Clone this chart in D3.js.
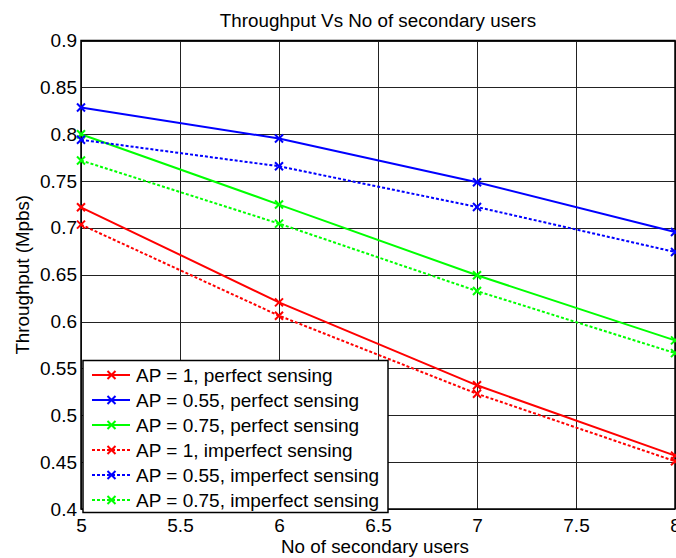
<!DOCTYPE html>
<html>
<head>
<meta charset="utf-8">
<script src="https://cdn.jsdelivr.net/npm/d3@7"></script>
<style>
  body { margin: 0; background: #fff; }
  svg text { font-family: "Liberation Sans", Arial, sans-serif; fill: #000; }
</style>
</head>
<body>
<svg id="chart"></svg>
<script>
'use strict'

const width = 676, height = 558

// data
const users = [5, 6, 7, 8]
const ap1Perfect     = [0.722, 0.6205, 0.532, 0.457]
const ap055Perfect   = [0.8285, 0.7954, 0.7487, 0.6956]
const ap075Perfect   = [0.800, 0.7249, 0.6494, 0.580]
const ap1Imperfect   = [0.7035, 0.6063, 0.523, 0.451]
const ap055Imperfect = [0.794, 0.7658, 0.7223, 0.6743]
const ap075Imperfect = [0.772, 0.7046, 0.6326, 0.5664]
const xTicks = [5, 5.5, 6, 6.5, 7, 7.5, 8]
const yTicks = [0.4, 0.45, 0.5, 0.55, 0.6, 0.65, 0.7, 0.75, 0.8, 0.85, 0.9]

const series = [
  { name: "AP = 1, perfect sensing",      values: ap1Perfect,     color: "#ff0000", dashed: false },
  { name: "AP = 0.55, perfect sensing",   values: ap055Perfect,   color: "#0000ff", dashed: false },
  { name: "AP = 0.75, perfect sensing",   values: ap075Perfect,   color: "#00ff00", dashed: false },
  { name: "AP = 1, imperfect sensing",    values: ap1Imperfect,   color: "#ff0000", dashed: true },
  { name: "AP = 0.55, imperfect sensing", values: ap055Imperfect, color: "#0000ff", dashed: true },
  { name: "AP = 0.75, imperfect sensing", values: ap075Imperfect, color: "#00ff00", dashed: true }
]

const margin = { left: 81, right: 1, top: 40.5, bottom: 49 }
const x = d3.scaleLinear().domain([5, 8]).range([margin.left, width - margin.right])
const y = d3.scaleLinear().domain([0.4, 0.9]).range([height - margin.bottom, margin.top])

const svg = d3.select("#chart").attr("width", width).attr("height", height)

// grid
const grid = svg.append("g").attr("class", "grid")
  .attr("stroke", "#222").attr("stroke-width", 1)
grid.selectAll("line.gx").data(xTicks).enter().append("line")
  .attr("x1", d => Math.round(x(d)) + 0.5).attr("x2", d => Math.round(x(d)) + 0.5)
  .attr("y1", y(0.4)).attr("y2", y(0.9))
grid.selectAll("line.gy").data(yTicks).enter().append("line")
  .attr("y1", d => Math.round(y(d)) + 0.5).attr("y2", d => Math.round(y(d)) + 0.5)
  .attr("x1", x(5)).attr("x2", x(8))

// axes: tick labels only, MATLAB style
const fmt = d3.format("")
const xAxis = d3.axisBottom(x).tickValues(xTicks).tickFormat(fmt).tickSize(0).tickPadding(10)
const yAxis = d3.axisLeft(y).tickValues(yTicks).tickFormat(fmt).tickSize(0).tickPadding(4)

svg.append("g").attr("transform", `translate(0,${y(0.4)})`).call(xAxis)
  .call(g => g.select(".domain").remove())
  .selectAll("text").style("font-size", "19px")
svg.append("g").attr("transform", `translate(${x(5)},0)`).call(yAxis)
  .call(g => g.select(".domain").remove())
  .selectAll("text").style("font-size", "19px")

// box
svg.append("rect")
  .attr("x", x(5)).attr("y", y(0.9))
  .attr("width", x(8) - x(5)).attr("height", y(0.4) - y(0.9))
  .attr("fill", "none").attr("stroke", "#000").attr("stroke-width", 1.5)

// lines and markers
const line = d3.line().x((d, i) => x(users[i])).y(d => y(d))
const xMark = s => `M${-s},${-s}L${s},${s}M${-s},${s}L${s},${-s}`

const gSeries = svg.append("g").selectAll("g").data(series).enter().append("g")
gSeries.append("path")
  .attr("d", d => line(d.values))
  .attr("fill", "none")
  .attr("stroke", d => d.color)
  .attr("stroke-width", 2)
  .attr("stroke-dasharray", d => d.dashed ? "3,2" : null)
gSeries.selectAll("path.mk").data(d => d.values.map((v, i) => ({ v, i, c: d.color }))).enter()
  .append("path").attr("class", "mk")
  .attr("transform", d => `translate(${x(users[d.i])},${y(d.v)})`)
  .attr("d", xMark(4))
  .attr("stroke", d => d.c).attr("stroke-width", 2).attr("fill", "none")

// legend
const legend = svg.append("g").attr("transform", "translate(83,360.5)")
legend.append("rect").attr("width", 305).attr("height", 152)
  .attr("fill", "#fff").attr("stroke", "#000").attr("stroke-width", 1.5)
const item = legend.selectAll("g.item").data(series).enter().append("g")
  .attr("transform", (d, i) => `translate(0,${14.5 + i * 25})`)
item.append("line").attr("x1", 9).attr("x2", 47).attr("y1", 0).attr("y2", 0)
  .attr("stroke", d => d.color).attr("stroke-width", 2)
  .attr("stroke-dasharray", d => d.dashed ? "3,2" : null)
item.append("path").attr("d", xMark(4)).attr("transform", "translate(28.5,0)")
  .attr("stroke", d => d.color).attr("stroke-width", 2)
item.append("text").attr("x", 53).attr("dy", "0.35em")
  .style("font-size", "19px").text(d => d.name)

// titles
svg.append("text").attr("x", (x(5) + x(8)) / 2).attr("y", 27)
  .attr("text-anchor", "middle").style("font-size", "18.8px")
  .text("Throughput Vs No of secondary users")
svg.append("text").attr("x", (x(5) + x(8)) / 2 - 3).attr("y", 553)
  .attr("text-anchor", "middle").style("font-size", "18.8px")
  .text("No of secondary users")
svg.append("text")
  .attr("transform", `translate(29,${(y(0.4) + y(0.9)) / 2}) rotate(-90)`)
  .attr("text-anchor", "middle").style("font-size", "18.8px")
  .text("Throughput (Mpbs)")
</script>
</body>
</html>
